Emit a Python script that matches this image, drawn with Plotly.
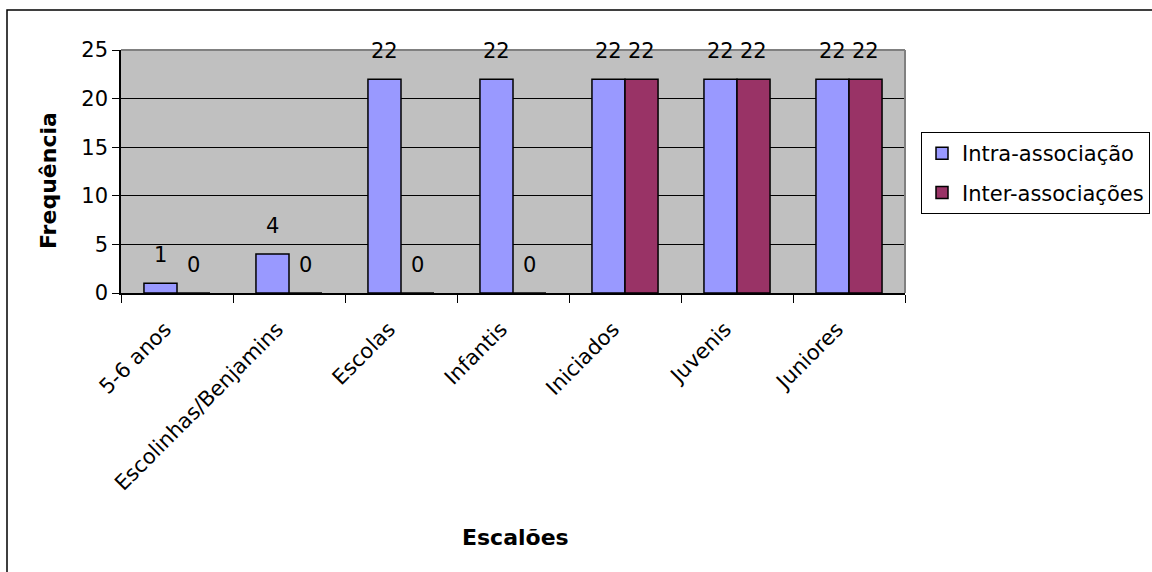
import plotly.graph_objects as go

# Frequência por escalão
escaloes = ["5-6 anos", "Escolinhas/Benjamins", "Escolas", "Infantis",
            "Iniciados", "Juvenis", "Juniores"]
intra_associacao = [1, 4, 22, 22, 22, 22, 22]
inter_associacoes = [0, 0, 0, 0, 22, 22, 22]
y_ticks = [0, 5, 10, 15, 20, 25]

FONT = "DejaVu Sans, Liberation Sans, Arial, sans-serif"
W, H = 1152, 572
L, R, T, B = 121, 247, 50, 279
plot_w = W - L - R
plot_h = H - T - B

fig = go.Figure()
fig.add_bar(name="Intra-associação", x=escaloes, y=intra_associacao,
            legendgroup="intra",
            marker=dict(color="#9999FF", line=dict(color="black", width=1.5)))
fig.add_bar(name="Inter-associações", x=escaloes, y=inter_associacoes,
            legendgroup="inter",
            marker=dict(color="#993366", line=dict(color="black", width=1.5)))

# value labels above each bar
cat_w = plot_w / len(escaloes)
bar_w = cat_w * 0.59 / 2
for vals, sign in ((intra_associacao, -1), (inter_associacoes, 1)):
    for cat, v in zip(escaloes, vals):
        fig.add_annotation(x=cat, y=v, xref="x", yref="y", text=str(v),
                           showarrow=False, xanchor="center", yanchor="bottom",
                           xshift=sign * bar_w / 2, yshift=14,
                           font=dict(family=FONT, size=21, color="black"))

# axis titles
fig.add_annotation(x=(48 - L) / plot_w, y=(H - B - 181) / plot_h,
                   xref="paper", yref="paper", xanchor="center", yanchor="middle",
                   text="<b>Frequência</b>", textangle=-90, showarrow=False,
                   font=dict(family=FONT, size=22, color="black"))
fig.add_annotation(x=(515 - L) / plot_w, y=(H - B - 537) / plot_h,
                   xref="paper", yref="paper", xanchor="center", yanchor="middle",
                   text="<b>Escalões</b>", showarrow=False,
                   font=dict(family=FONT, size=22, color="black"))

# outer chart frame and plot-area top/right edges
fig.add_shape(type="rect", xref="paper", yref="paper",
              x0=(7 - L) / plot_w, x1=(W + 10 - L) / plot_w,
              y0=(H - B - (H + 10)) / plot_h, y1=(H - B - 10) / plot_h,
              line=dict(color="black", width=1.5), layer="below")
fig.add_shape(type="line", xref="paper", yref="paper", x0=0, x1=1, y0=1, y1=1,
              line=dict(color="#808080", width=2))
fig.add_shape(type="line", xref="paper", yref="paper", x0=1, x1=1, y0=0, y1=1,
              line=dict(color="#808080", width=2))

fig.update_layout(
    width=W, height=H,
    margin=dict(l=L, r=R, t=T, b=B, autoexpand=False),
    paper_bgcolor="white", plot_bgcolor="#C0C0C0",
    barmode="group", bargap=0.41, bargroupgap=0,
    font=dict(family=FONT, size=21, color="black"),
    showlegend=True,
    legend=dict(x=(921 - L) / plot_w, y=(H - B - 132) / plot_h,
                xanchor="left", yanchor="top", traceorder="grouped",
                bgcolor="white", bordercolor="black", borderwidth=1,
                font=dict(family=FONT, size=21, color="black"),
                itemwidth=30, tracegroupgap=9),
)
fig.update_xaxes(type="category", tickangle=-45, showgrid=False,
                 showline=True, linecolor="black", linewidth=1.5,
                 ticks="outside", tickson="boundaries", ticklen=8,
                 tickcolor="black", tickwidth=1,
                 ticklabelstandoff=14, ticklabelshift=-12,
                 tickfont=dict(family=FONT, size=21, color="black"))
fig.update_yaxes(range=[0, 25], tickvals=y_ticks, showgrid=True,
                 gridcolor="black", gridwidth=1, zeroline=False,
                 showline=True, linecolor="black", linewidth=1.5,
                 ticks="outside", ticklen=7, tickcolor="black",
                 tickfont=dict(family=FONT, size=21, color="black"))

fig.write_html("out.html")
